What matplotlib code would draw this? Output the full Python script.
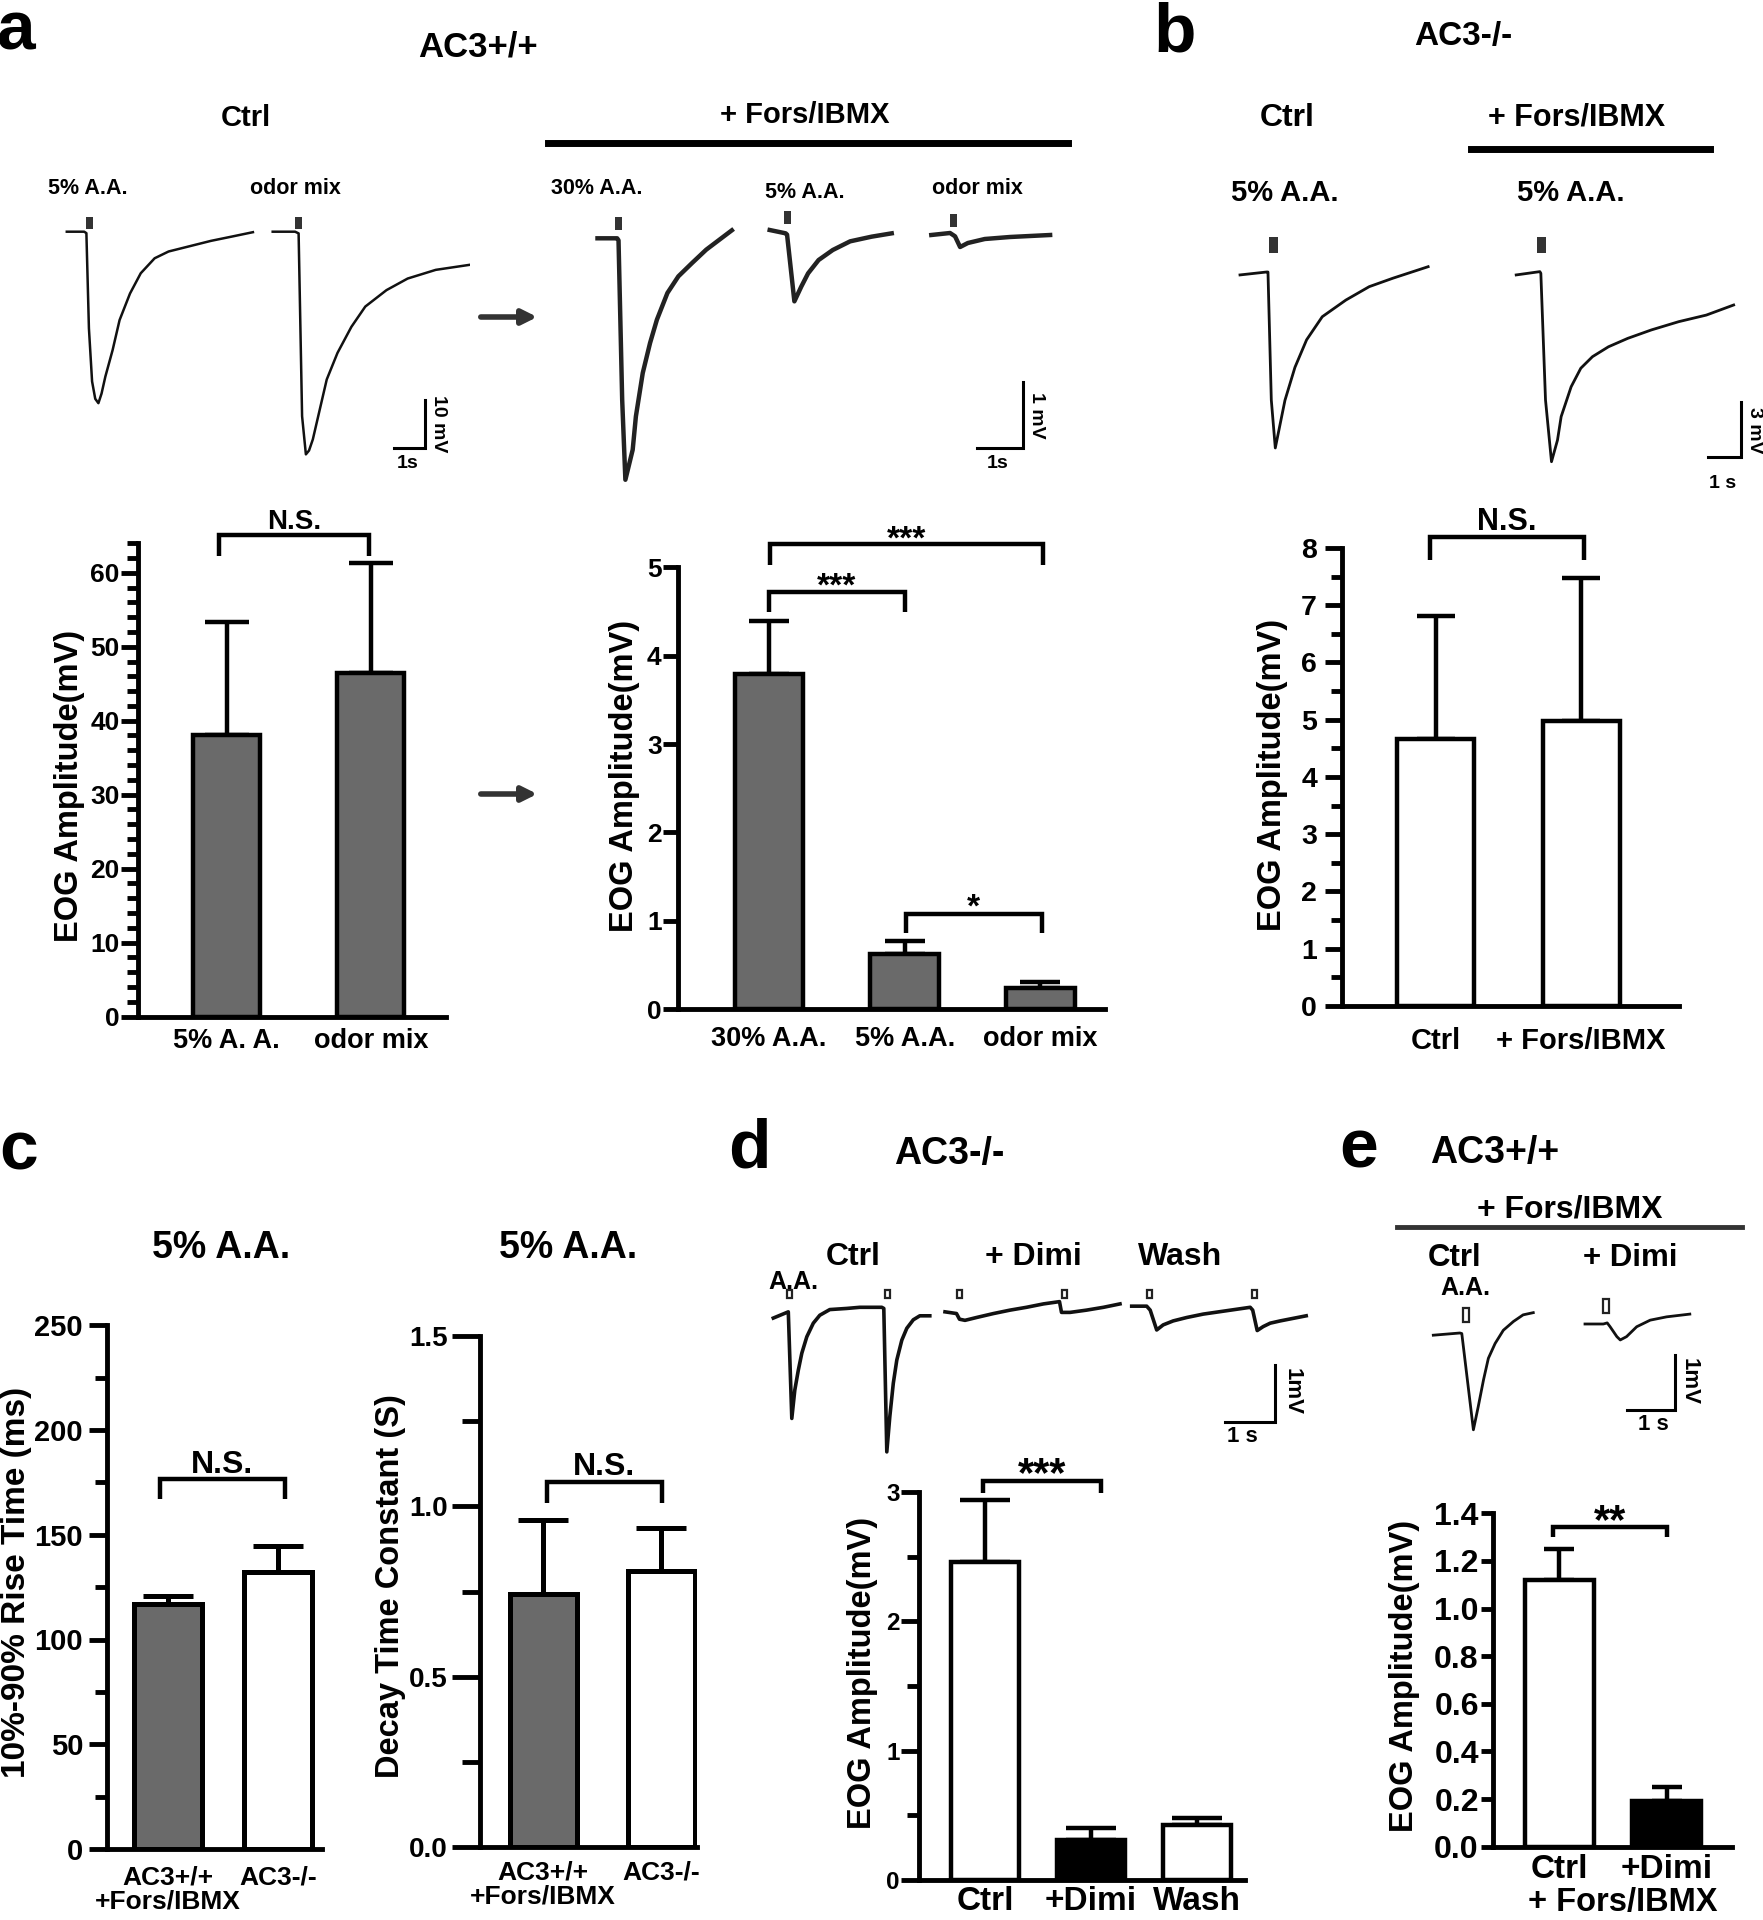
import numpy as np
import matplotlib.pyplot as plt
from matplotlib.patches import Rectangle, FancyArrowPatch

W, H = 1763, 1920
SANS = ['Liberation Sans', 'DejaVu Sans']
plt.rcParams['font.family'] = SANS
plt.rcParams['font.weight'] = 'bold'
plt.rcParams['axes.linewidth'] = 3.5

# ---------------- bar values: mean and upper error ----------------
a_ctrl_labels = ['5% A. A.', 'odor mix']
a_ctrl_mean = [38.0, 46.4]
a_ctrl_err = [15.4, 14.9]

a_fors_labels = ['30% A.A.', '5% A.A.', 'odor mix']
a_fors_mean = [3.79, 0.62, 0.24]
a_fors_err = [0.60, 0.15, 0.07]

b_labels = ['Ctrl', '+ Fors/IBMX']
b_mean = [4.66, 4.98]
b_err = [2.15, 2.49]

c_labels = ['AC3+/+\n+Fors/IBMX', 'AC3-/-']
c_rise_mean = [117, 132]
c_rise_err = [3.7, 12.6]
c_decay_mean = [0.744, 0.811]
c_decay_err = [0.215, 0.125]

d_labels = ['Ctrl', '+Dimi', 'Wash']
d_mean = [2.46, 0.31, 0.425]
d_err = [0.48, 0.09, 0.055]

e_labels = ['Ctrl', '+Dimi']
e_mean = [1.12, 0.19]
e_err = [0.13, 0.06]

# ---------------- example EOG traces: time (s), voltage (mV) ----------------
a_ctrl_aa_t = [0, 0.55, 0.62, 0.70, 0.80, 0.90, 1.00, 1.10, 1.22, 1.45, 1.67, 2.0, 2.34, 2.78, 3.22, 3.89, 4.56, 5.23, 5.89]
a_ctrl_aa_v = [0, 0, -0.3, -20, -31.0, -34.6, -35.5, -33.5, -30.0, -24.5, -18.3, -12.8, -8.6, -5.5, -4.1, -3.0, -1.9, -1.0, -0.1]
a_ctrl_odor_t = [0, 0.71, 0.82, 0.93, 1.05, 1.15, 1.27, 1.49, 1.71, 2.05, 2.49, 2.93, 3.6, 4.27, 5.16, 6.6]
a_ctrl_odor_v = [0, 0, -0.35, -38.2, -46.1, -45.3, -43.0, -36.8, -30.6, -25.1, -19.7, -15.5, -12.1, -9.7, -7.9, -6.5]
a_ctrl_stim = [0.62, 0.71]

a_fors_30_t = [0, 0.43, 0.46, 0.54, 0.61, 0.77, 0.84, 0.99, 1.15, 1.30, 1.53, 1.77, 2.07, 2.38, 2.94]
a_fors_30_v = [0, 0, -0.03, -2.42, -3.62, -3.17, -2.67, -2.02, -1.57, -1.22, -0.82, -0.57, -0.37, -0.17, 0.12]
a_fors_5_t = [0, 0.35, 0.38, 0.54, 0.69, 0.84, 1.07, 1.38, 1.76, 2.23, 2.67]
a_fors_5_v = [0.03, -0.02, -0.04, -1.04, -0.82, -0.62, -0.42, -0.27, -0.14, -0.07, -0.02]
a_fors_odor_t = [0, 0.41, 0.52, 0.63, 0.80, 1.17, 1.72, 2.6]
a_fors_odor_v = [0, 0.03, -0.02, -0.18, -0.12, -0.06, -0.03, 0]
a_fors_stim = [0.38, 0.31, 0.41]

b_ctrl_t = [0, 0.80, 0.84, 0.94, 1.06, 1.35, 1.65, 2.0, 2.47, 3.18, 3.88, 4.59, 5.65]
b_ctrl_v = [-0.16, 0, 0, -6.98, -9.6, -7.0, -5.2, -3.7, -2.44, -1.53, -0.80, -0.34, 0.29]
b_fors_t = [0, 0.71, 0.74, 0.88, 1.06, 1.24, 1.35, 1.65, 1.94, 2.29, 2.77, 3.35, 4.06, 4.88, 5.71, 6.53]
b_fors_v = [-0.16, 0.02, -0.07, -6.98, -10.35, -9.17, -7.89, -6.26, -5.25, -4.62, -4.08, -3.62, -3.16, -2.71, -2.35, -1.80]
b_stim = [0.88, 0.62]

d_ctrl_t = [0, 0.30, 0.37, 0.43, 0.50, 0.57, 0.67, 0.80, 0.93, 1.13, 1.47, 1.73, 2.17, 2.21, 2.27, 2.33, 2.40, 2.47, 2.57, 2.67, 2.80, 2.93, 3.13]
d_ctrl_v = [-0.19, -0.08, -1.96, -1.46, -1.11, -0.81, -0.52, -0.28, -0.14, -0.04, -0.02, 0, 0, -0.02, -2.55, -1.93, -1.34, -0.93, -0.58, -0.37, -0.22, -0.15, -0.15]
d_dimi_t = [0, 0.23, 0.29, 0.40, 0.63, 0.97, 1.30, 1.63, 1.97, 2.29, 2.33, 2.50, 2.83, 3.17, 3.50]
d_dimi_v = [-0.08, -0.11, -0.21, -0.23, -0.18, -0.11, -0.05, 0, 0.06, 0.10, -0.09, -0.09, -0.05, 0, 0.06]
d_wash_t = [0, 0.30, 0.37, 0.50, 0.63, 0.83, 1.10, 1.43, 1.90, 2.37, 2.42, 2.51, 2.63, 2.77, 2.97, 3.49]
d_wash_v = [0.02, 0.02, -0.05, -0.40, -0.31, -0.24, -0.18, -0.12, -0.06, 0, -0.05, -0.41, -0.34, -0.28, -0.24, -0.15]
d_stim = [[0.27, 2.23], [0.23, 2.33], [0.30, 2.40]]

e_ctrl_t = [0, 0.55, 0.59, 0.83, 0.93, 1.04, 1.14, 1.28, 1.45, 1.66, 1.86, 2.07]
e_ctrl_v = [-0.04, 0.0, -0.01, -1.76, -1.34, -0.85, -0.46, -0.19, 0.05, 0.21, 0.33, 0.37]
e_dimi_t = [0, 0.38, 0.46, 0.52, 0.66, 0.73, 0.86, 1.07, 1.35, 1.69, 2.17]
e_dimi_v = [0, 0, 0.02, -0.05, -0.23, -0.29, -0.23, -0.05, 0.07, 0.13, 0.18]
e_stim = [0.62, 0.38]

fig = plt.figure(figsize=(W / 100, H / 100), dpi=100)


def ftext(x, y, s, size, rot=0, ha='center', va='center'):
    fig.text(x / W, 1 - y / H, s, fontsize=size, fontweight='bold',
             rotation=rot, ha=ha, va=va)


def fline(x1, x2, y, lw, color='k'):
    fig.add_artist(plt.Line2D([x1 / W, x2 / W], [1 - y / H, 1 - y / H], lw=lw, color=color))


def trace_axes(box, origin, px_s, px_mv):
    l, t, r, b = box
    x0, y0 = origin
    ax = fig.add_axes([l / W, 1 - b / H, (r - l) / W, (b - t) / H])
    ax.set_xlim((l - x0) / px_s, (r - x0) / px_s)
    ax.set_ylim((y0 - b) / px_mv, (y0 - t) / px_mv)
    ax.axis('off')
    return ax


def scale_bar(ax, corner, origin, px_s, px_mv, mv, lw=2.2):
    cx = (corner[0] - origin[0]) / px_s
    cy = (origin[1] - corner[1]) / px_mv
    ax.plot([cx - 1, cx, cx], [cy, cy, cy + mv], color='k', lw=lw, clip_on=False,
            solid_joinstyle='miter')


def stim(ax, t, lo, hi, width, filled=True):
    if filled:
        ax.add_patch(Rectangle((t, lo), width, hi - lo, facecolor='#333333', edgecolor='none'))
    else:
        ax.add_patch(Rectangle((t, lo), width, hi - lo, facecolor='white', edgecolor='#222222', lw=1.6))


def bar_panel(x_axis, x_end, y_zero, px_unit, ymax, c0, step, bar_px, labels, means, errs,
              colors, major, minor=None, tick_fs=18, tick_len=13, tick_pad=2, lab_fs=20,
              lab_pad=6, cap=15, fmt='{:.0f}', lw=3.2):
    top = y_zero - ymax * px_unit
    ax = fig.add_axes([x_axis / W, 1 - y_zero / H, (x_end - x_axis) / W, (y_zero - top) / H])
    ax.patch.set_visible(False)
    x = np.arange(len(means))
    ax.errorbar(x, means, yerr=[np.zeros(len(x)), errs], fmt='none', ecolor='k',
                elinewidth=lw, capsize=cap, capthick=lw, zorder=1)
    ax.bar(x, means, width=bar_px / step, color=colors, edgecolor='k', linewidth=lw, zorder=2)
    ax.set_xlim((x_axis - c0) / step, (x_end - c0) / step)
    ax.set_ylim(0, ymax)
    for s in ['top', 'right']:
        ax.spines[s].set_visible(False)
    ax.spines['bottom'].set_zorder(3)
    ticks = np.arange(0, ymax + major * 0.01, major)
    ax.set_yticks(ticks, [fmt.format(v) for v in ticks], fontsize=tick_fs, fontweight='bold')
    if minor:
        ax.set_yticks(np.arange(0, ymax + minor * 0.01, minor), minor=True)
    ax.tick_params(axis='y', which='major', length=tick_len, width=3.5, pad=tick_pad)
    ax.tick_params(axis='y', which='minor', length=tick_len * 0.65, width=3.5)
    ax.set_xticks(x, labels, fontsize=lab_fs, fontweight='bold', linespacing=1.0)
    ax.tick_params(axis='x', length=0, pad=lab_pad)
    return ax


def bracket(ax, x1, x2, y, leg1, leg2, text, ty, fs, lw=3.2):
    ax.plot([x1, x1, x2, x2], [leg1, y, y, leg2], color='k', lw=lw, clip_on=False,
            solid_joinstyle='miter', solid_capstyle='butt')
    ax.text((x1 + x2) / 2, ty, text, ha='center', va='center', fontsize=fs,
            fontweight='bold', clip_on=False)


def arrow(x1, x2, y):
    fig.add_artist(FancyArrowPatch((x1 / W, 1 - y / H), (x2 / W, 1 - y / H),
                                   transform=fig.transFigure, arrowstyle='-|>',
                                   mutation_scale=22, lw=4, color='#333333'))


# ======================= panel a =======================
ftext(16, 31, 'a', 50)
ftext(478, 47, 'AC3+/+', 25)
ftext(246, 118, 'Ctrl', 21)
ftext(805, 115, '+ Fors/IBMX', 21)
fline(548, 1068, 143, 5)
for x, y, s in [(88, 189, '5% A.A.'), (295, 188, 'odor mix'), (597, 188, '30% A.A.'),
                (805, 193, '5% A.A.'), (977, 188, 'odor mix')]:
    ftext(x, y, s, 15.5)

o1, s1, m1 = (66.8, 231.7), 31.6, 4.83
ax = trace_axes((50, 200, 470, 470), o1, s1, m1)
for t, v, start, st in [(a_ctrl_aa_t, a_ctrl_aa_v, 66.8, a_ctrl_stim[0]),
                        (a_ctrl_odor_t, a_ctrl_odor_v, 272.7, a_ctrl_stim[1])]:
    off = (start - o1[0]) / s1
    ax.plot(np.array(t) + off, v, color='#111111', lw=1.8)
    stim(ax, st + off, 0.5, 3.0, 0.22)
scale_bar(ax, (425.2, 448.3), o1, s1, m1, 10)
ftext(438, 424, '10 mV', 14, rot=-90)
ftext(408, 463, '1s', 14)

o2, s2, m2 = (597.5, 238.3), 45.7, 66.7
ax = trace_axes((580, 200, 1060, 490), o2, s2, m2)
for t, v, start, base, st in [(a_fors_30_t, a_fors_30_v, 597.5, 238.3, a_fors_stim[0]),
                              (a_fors_5_t, a_fors_5_v, 769.7, 232.0, a_fors_stim[1]),
                              (a_fors_odor_t, a_fors_odor_v, 931.3, 235.0, a_fors_stim[2])]:
    off = (start - o2[0]) / s2
    voff = (o2[1] - base) / m2
    ax.plot(np.array(t) + off, np.array(v) + voff, color='#222222', lw=3.2)
    stim(ax, st + off, voff + 0.12, voff + 0.32, 0.15)
scale_bar(ax, (1022.7, 448.3), o2, s2, m2, 1)
ftext(1037, 415, '1 mV', 14, rot=-90)
ftext(998, 463, '1s', 14)

arrow(478, 540, 317)
arrow(478, 540, 794)

ax = bar_panel(137.5, 446, 1016.5, 7.395, 64, 226.7, 144.1, 67, a_ctrl_labels, a_ctrl_mean,
               a_ctrl_err, '#6a6a6a', 10, 2, tick_fs=19, tick_len=12, tick_pad=1, lab_fs=19.5,
               lab_pad=8, cap=15.5)
bracket(ax, -0.05, 0.99, 65.1, 62.3, 62.3, 'N.S.', 66.9, 20)
ftext(70, 786, 'EOG Amplitude(mV)', 23.5, rot=90)

ax = bar_panel(678.3, 1105, 1009.2, 88.4, 5, 769, 135.7, 68.5, a_fors_labels, a_fors_mean,
               a_fors_err, '#6a6a6a', 1, None, tick_fs=19, tick_len=11, tick_pad=1, lab_fs=19.5,
               lab_pad=12, cap=14.5)
bracket(ax, 0.01, 2.02, 5.26, 5.02, 5.02, '***', 5.31, 24)
bracket(ax, 0.0, 1.0, 4.72, 4.49, 4.49, '***', 4.77, 24)
bracket(ax, 1.01, 2.01, 1.08, 0.86, 0.86, '*', 1.14, 24)
ftext(624, 776, 'EOG Amplitude(mV)', 23.5, rot=90)

# ======================= panel b =======================
ftext(1175, 33, 'b', 50)
ftext(1463, 37, 'AC3-/-', 24)
ftext(1287, 118, 'Ctrl', 23)
ftext(1577, 118, '+ Fors/IBMX', 22)
fline(1471, 1710, 149, 5)
ftext(1285, 193, '5% A.A.', 21)
ftext(1571, 193, '5% A.A.', 21)

ob, sb, mb = (1240, 272), 33.3, 18.33
ax = trace_axes((1225, 215, 1750, 475), ob, sb, mb)
for t, v, start, st in [(b_ctrl_t, b_ctrl_v, 1240, b_stim[0]), (b_fors_t, b_fors_v, 1516.2, b_stim[1])]:
    off = (start - ob[0]) / sb
    ax.plot(np.array(t) + off, v, color='#111111', lw=2.0)
    stim(ax, st + off, 1.02, 1.93, 0.26)
scale_bar(ax, (1741.5, 456.7), ob, sb, mb, 3)
ftext(1755, 430, '3 mV', 14, rot=-90)
ftext(1723, 483, '1 s', 14)

ax = bar_panel(1341.9, 1679, 1005.9, 57.24, 8, 1435.6, 145.4, 77, b_labels, b_mean, b_err,
               'white', 1, 0.5, tick_fs=20.5, tick_len=12, tick_pad=6, lab_fs=21, lab_pad=15,
               cap=13.5)
bracket(ax, -0.04, 1.02, 8.19, 7.79, 7.79, 'N.S.', 8.45, 22)
ftext(1273, 775, 'EOG Amplitude(mV)', 23.5, rot=90)

# ======================= panel c =======================
ftext(19, 1152, 'c', 50)
ftext(221, 1248, '5% A.A.', 27)
ftext(568, 1248, '5% A.A.', 27)

ax = bar_panel(106.7, 322, 1848.9, 2.094, 250, 167.5, 110.8, 68, c_labels, c_rise_mean,
               c_rise_err, ['#6a6a6a', 'white'], 50, 25, tick_fs=21, tick_len=13, tick_pad=4,
               lab_fs=19, lab_pad=12, cap=18, lw=3.6)
bracket(ax, -0.068, 1.06, 176.8, 166.9, 166.9, 'N.S.', 183.4, 23)
ftext(17, 1582, '10%-90% Rise Time (ms)', 24, rot=90)

ax = bar_panel(480, 697, 1847.1, 340.8, 1.5, 543, 118, 67, c_labels, c_decay_mean,
               c_decay_err, ['#6a6a6a', 'white'], 0.5, 0.25, tick_fs=20, tick_len=20, tick_pad=3,
               lab_fs=19, lab_pad=10, cap=18, fmt='{:.1f}', lw=3.6)
bracket(ax, 0.034, 1.008, 1.07, 1.01, 1.01, 'N.S.', 1.114, 23)
ftext(390, 1586, 'Decay Time Constant (S)', 23.5, rot=90)

# ======================= panel d =======================
ftext(749, 1150, 'd', 50)
ftext(949, 1154, 'AC3-/-', 27)
ftext(853, 1257, 'Ctrl', 23)
ftext(1033, 1257, '+ Dimi', 23)
ftext(1180, 1257, 'Wash', 23)
ftext(793, 1282, 'A.A.', 18)

od, sd, md = (773.3, 1307.3), 50, 56.7
ax = trace_axes((765, 1280, 1320, 1460), od, sd, md)
for t, v, start, sts in [(d_ctrl_t, d_ctrl_v, 773.3, d_stim[0]), (d_dimi_t, d_dimi_v, 945, d_stim[1]),
                         (d_wash_t, d_wash_v, 1131.7, d_stim[2])]:
    off = (start - od[0]) / sd
    ax.plot(np.array(t) + off, v, color='#111111', lw=2.6)
    for st in sts:
        stim(ax, st + off, 0.16, 0.30, 0.1, filled=False)
scale_bar(ax, (1275, 1421.7), od, sd, md, 1)
ftext(1292, 1392, '1mV', 16, rot=-90)
ftext(1242, 1437, '1 s', 16)

ax = bar_panel(919.3, 1245, 1880, 129.4, 3, 985, 105.85, 68, d_labels, d_mean, d_err,
               ['white', 'black', 'white'], 1, 0.5, tick_fs=17.5, tick_len=13, tick_pad=1,
               lab_fs=24, lab_pad=4, cap=18)
bracket(ax, -0.016, 1.1, 3.086, 2.99, 2.99, '***', 3.13, 30)
ftext(862, 1673, 'EOG Amplitude(mV)', 23.5, rot=90)

# ======================= panel e =======================
ftext(1359, 1150, 'e', 50)
ftext(1495, 1153, 'AC3+/+', 27)
ftext(1570, 1210, '+ Fors/IBMX', 23)
fline(1397, 1742, 1227, 3.5, '#333333')
ftext(1455, 1258, 'Ctrl', 22.5)
ftext(1630, 1258, '+ Dimi', 22.5)
ftext(1465, 1288, 'A.A.', 18)

oe, se, me = (1433.3, 1333), 48.3, 55
ax = trace_axes((1420, 1295, 1700, 1440), oe, se, me)
for t, v, start, base, st in [(e_ctrl_t, e_ctrl_v, 1433.3, 1333, e_stim[0]),
                              (e_dimi_t, e_dimi_v, 1585, 1324, e_stim[1])]:
    off = (start - oe[0]) / se
    voff = (oe[1] - base) / me
    ax.plot(np.array(t) + off, np.array(v) + voff, color='#111111', lw=2.0)
    stim(ax, st + off, voff + 0.2, voff + 0.45, 0.11, filled=False)
scale_bar(ax, (1675, 1410), oe, se, me, 1)
ftext(1689, 1382, '1mV', 16, rot=-90)
ftext(1653, 1425, '1 s', 16)

ax = bar_panel(1492.7, 1732, 1846.7, 238.1, 1.4, 1559, 107.7, 69, e_labels, e_mean, e_err,
               ['white', 'black'], 0.2, None, tick_fs=23, tick_len=9, tick_pad=1, lab_fs=24,
               lab_pad=5, cap=11, fmt='{:.1f}')
bracket(ax, -0.06, 1.0, 1.341, 1.30, 1.30, '**', 1.365, 30)
ftext(1623, 1903, '+ Fors/IBMX', 23.5)
ftext(1404, 1676, 'EOG Amplitude(mV)', 23.5, rot=90)

fig.savefig('out.png', dpi=100)
